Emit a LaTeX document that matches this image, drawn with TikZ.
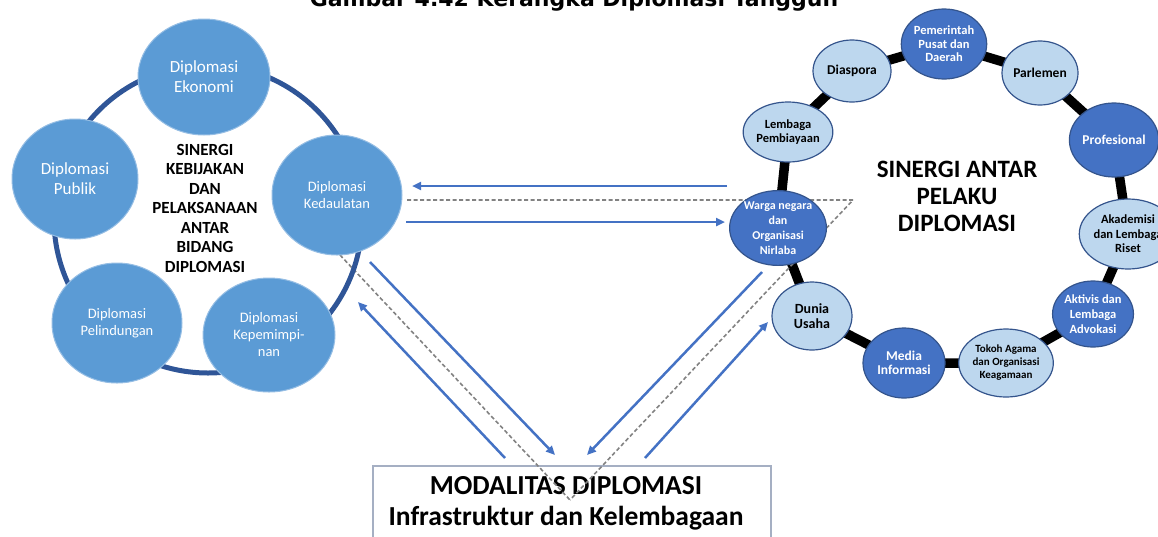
\documentclass[tikz,border=0pt]{standalone}
\usepackage{fontspec}
\setmainfont{Carlito}
\newfontfamily\titlefont{DejaVu Sans}
\usetikzlibrary{arrows.meta,shapes.geometric}
\pgfdeclarelayer{bg}
\pgfsetlayers{bg,main}
\definecolor{ringblue}{RGB}{47,85,151}
\definecolor{midblue}{RGB}{91,155,213}
\definecolor{midedge}{RGB}{150,190,228}
\definecolor{lightfill}{RGB}{189,215,238}
\definecolor{darkfill}{RGB}{68,114,196}
\definecolor{circedge}{RGB}{52,84,140}
\definecolor{arrowblue}{RGB}{68,114,196}
\definecolor{dashgray}{RGB}{130,130,130}
\definecolor{boxedge}{RGB}{165,175,195}
\tikzset{
  lcirc/.style={ellipse, inner sep=0pt, fill=midblue, draw=midedge, line width=1pt,
    text=white, align=center},
  lbig/.style={lcirc, font=\fontsize{17}{20}\selectfont},
  lsmall/.style={lcirc, font=\fontsize{14.5}{17}\selectfont},
  rcirc/.style={ellipse, inner sep=0pt, draw=circedge, line width=1.2pt, align=center,
    font=\bfseries\fontsize{13.5}{14.5}\selectfont},
  rlight/.style={rcirc, fill=lightfill, text=black},
  rdark/.style={rcirc, fill=darkfill, text=white},
  rlink/.style={line width=9.5pt, black},
  arr/.style={line width=2.5pt, arrowblue, -{Triangle[length=9pt,width=8pt]}},
  dashln/.style={line width=1.6pt, dashgray, dash pattern=on 4pt off 2.5pt},
}
\begin{document}
\begin{tikzpicture}[x=1pt,y=-1pt]
\useasboundingbox (0,0) rectangle (1158,536);
\clip (0,0) rectangle (1158,536);

% title
\node[font=\titlefont\bfseries\fontsize{22}{24}\selectfont, anchor=base, inner sep=0pt] (title) at (574,6) {Gambar 4.42 Kerangka Diplomasi Tangguh};

% bottom box
\node[draw=boxedge, line width=1.5pt, fill=white, minimum width=398, minimum height=90, anchor=north west] (box) at (372,465) {};
\node[font=\bfseries\fontsize{27.5}{31}\selectfont, align=center, inner sep=0pt] (boxtext) at (566,503)
  {MODALITAS DIPLOMASI\\Infrastruktur dan Kelembagaan};

% dashed links (over the box, under the circles)
\coordinate (dk) at (407,200);
\coordinate (dw) at (853,200);
\coordinate (dl) at (340,255);
\coordinate (dm) at (570,500);
\draw[dashln] (dk) -- (dw) -- (dm);
\draw[dashln] (dl) -- (dm);

% left cycle
\draw[ringblue, line width=5pt] (208,219) circle[radius=154];
\node[lbig, minimum width=132, minimum height=116] (eko) at (204,77) {Diplomasi\\Ekonomi};
\node[lbig, minimum width=126, minimum height=120] (pub) at (75,179) {Diplomasi\\Publik};
\node[lsmall, minimum width=130, minimum height=120] (ked) at (337,195) {Diplomasi\\Kedaulatan};
\node[lsmall, minimum width=130, minimum height=120] (pel) at (117,323) {Diplomasi\\Pelindungan};
\node[lsmall, minimum width=132, minimum height=114] (kep) at (269,335) {Diplomasi\\Kepemimpi-\\nan};
\node[font=\bfseries\fontsize{17}{19.5}\selectfont, align=center, inner sep=0pt] (lcenter) at (205,208)
  {SINERGI\\KEBIJAKAN\\DAN\\PELAKSANAAN\\ANTAR\\BIDANG\\DIPLOMASI};

% right ring
\node[rdark, minimum width=72, minimum height=70, font=\bfseries\fontsize{12.5}{13.5}\selectfont] (pem) at (944,44) {Pemerintah\\Pusat dan\\Daerah};
\node[rlight, minimum width=78, minimum height=62] (dia) at (852,71) {Diaspora};
\node[rlight, minimum width=76, minimum height=64] (par) at (1040,73) {Parlemen};
\node[rlight, minimum width=78, minimum height=60, font=\bfseries\fontsize{12.5}{13.5}\selectfont] (lem) at (788,132) {Lembaga\\Pembiayaan};
\node[rdark, minimum width=82, minimum height=74] (pro) at (1114,140) {Profesional};
\node[rdark, minimum width=84, minimum height=68, font=\bfseries\fontsize{12}{15}\selectfont] (war) at (778,228) {Warga negara\\dan\\Organisasi\\Nirlaba};
\node[rlight, minimum width=78, minimum height=70, font=\bfseries\fontsize{12.5}{14.5}\selectfont] (aka) at (1128,234) {Akademisi\\dan Lembaga\\Riset};
\node[rlight, minimum width=80, minimum height=68, font=\bfseries\fontsize{14}{15}\selectfont] (dun) at (812,316) {Dunia\\Usaha};
\node[rdark, minimum width=78, minimum height=66, font=\bfseries\fontsize{12.5}{15}\selectfont] (akt) at (1093,314) {Aktivis dan\\Lembaga\\Advokasi};
\node[rdark, minimum width=82, minimum height=70] (med) at (904,363) {Media\\Informasi};
\node[rlight, minimum width=86, minimum height=68, font=\bfseries\fontsize{11}{13}\selectfont] (tok) at (1006,363) {Tokoh Agama\\dan Organisasi\\Keagamaan};
\node[font=\bfseries\fontsize{25}{27}\selectfont, align=center, inner sep=0pt] (rcenter) at (957,196)
  {SINERGI ANTAR\\PELAKU\\DIPLOMASI};

\begin{pgfonlayer}{bg}
  \draw[rlink] (pem.center) -- (par.center) -- (pro.center) -- (aka.center) -- (akt.center)
    -- (tok.center) -- (med.center) -- (dun.center) -- (war.center) -- (lem.center)
    -- (dia.center) -- (pem.center);
\end{pgfonlayer}

% arrows
\coordinate (a1s) at (727,186); \coordinate (a1e) at (412,186);
\coordinate (a2s) at (406,222); \coordinate (a2e) at (725,222);
\coordinate (a3s) at (370,262); \coordinate (a3e) at (555,455);
\coordinate (a4s) at (505,458); \coordinate (a4e) at (358,302);
\coordinate (a5s) at (762,272); \coordinate (a5e) at (587,455);
\coordinate (a6s) at (645,458); \coordinate (a6e) at (768,322);
\draw[arr] (a1s) -- (a1e);
\draw[arr] (a2s) -- (a2e);
\draw[arr] (a3s) -- (a3e);
\draw[arr] (a4s) -- (a4e);
\draw[arr] (a5s) -- (a5e);
\draw[arr] (a6s) -- (a6e);
\end{tikzpicture}
\end{document}
